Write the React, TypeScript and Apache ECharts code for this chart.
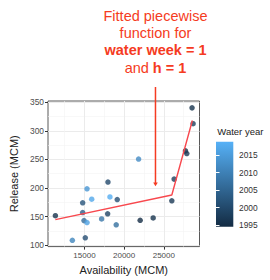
import React, { useEffect, useRef } from "react";
import * as echarts from "echarts";

const AVAILABILITY = [11330, 13470, 15100, 14770, 14770, 14940, 15320, 15320, 15910, 17160, 17960, 17920, 18210, 19000, 19130, 21820, 22020, 23660, 26010, 26300, 27730, 27900, 28560, 28690];
const RELEASE = [151.5, 108.5, 112.9, 174.1, 157.1, 143.0, 139.6, 198.6, 180.4, 145.9, 210.5, 154.9, 184.4, 135.7, 179.9, 250.7, 143.5, 147.6, 177.6, 215.6, 265.0, 260.4, 340.3, 312.6];
const WATER_YEAR = [1996, 2011, 2001, 2002, 2004, 2006, 2016, 2014, 2017, 2008, 2000, 1999, 2018, 2007, 2001, 2012, 1995, 1996, 1997, 1998, 1995, 1997, 1996, 1998];

const FIT_AVAILABILITY = [11330, 26010, 28600];
const FIT_RELEASE = [144.7, 187.8, 318.2];

const X_TICKS = [15000, 20000, 25000];
const X_MINOR = [12500, 17500, 22500, 27500];
const Y_TICKS = [100, 150, 200, 250, 300, 350];
const Y_MINOR = [125, 175, 225, 275, 325];
const YEAR_TICKS = [1995, 2000, 2005, 2010, 2015];

const ARROW_X = 23950;
const ARROW_TIP = 203;

const FONT = "'Liberation Sans', Arial, sans-serif";
const RED = "#F53B22";
const plain = (v: number) => String(Math.round(v));

export default function App() {
  const ref = useRef<HTMLDivElement>(null);
  useEffect(() => {
    const chart = echarts.init(ref.current!, null, { renderer: "svg" });
    const yearAxis = (pos: "left" | "right", labels: boolean) => ({
      gridIndex: 1,
      type: "value",
      position: pos,
      min: 1994.6,
      max: 2018.8,
      z: 10,
      axisLine: { show: false },
      axisTick: { show: true, inside: true, length: 3.5, lineStyle: { color: "#ffffff", width: 1 }, customValues: YEAR_TICKS },
      axisLabel: { show: labels, customValues: YEAR_TICKS, formatter: plain, fontSize: 8.4, color: "#333", margin: 5.7, fontFamily: FONT },
      splitLine: { show: false },
    });
    chart.setOption({
      animation: false,
      textStyle: { fontFamily: FONT },
      grid: [
        { left: 48, top: 101, width: 151.5, height: 149.7, show: true, borderColor: "#595959", borderWidth: 1, backgroundColor: "#ffffff" },
        { left: 216, top: 141.7, width: 17.3, height: 85 },
      ],
      xAxis: [
        {
          gridIndex: 0, type: "value", min: 10400, max: 29500,
          name: "Availability (MCM)", nameLocation: "middle", nameGap: 16,
          nameTextStyle: { fontSize: 11, color: "#222", fontFamily: FONT },
          axisLine: { show: false },
          axisTick: { show: true, length: 3, lineStyle: { color: "#333" }, customValues: X_TICKS },
          axisLabel: { customValues: X_TICKS, formatter: plain, fontSize: 8, color: "#4d4d4d", margin: 4.5, fontFamily: FONT },
          splitLine: { show: true, lineStyle: { color: "#EBEBEB", width: 1 } },
        },
        {
          gridIndex: 0, type: "value", min: 10400, max: 29500, position: "bottom",
          axisLine: { show: false },
          axisTick: { show: false, customValues: X_MINOR },
          axisLabel: { show: false },
          splitLine: { show: true, lineStyle: { color: "#F4F4F4", width: 0.6 } },
        },
        { gridIndex: 1, type: "value", show: false },
      ],
      yAxis: [
        {
          gridIndex: 0, type: "value", min: 97.5, max: 352.3,
          name: "Release (MCM)", nameLocation: "middle", nameGap: 21,
          nameTextStyle: { fontSize: 11, color: "#222", fontFamily: FONT },
          axisLine: { show: false },
          axisTick: { show: true, length: 3, lineStyle: { color: "#333" }, customValues: Y_TICKS },
          axisLabel: { customValues: Y_TICKS, formatter: plain, fontSize: 8.4, color: "#4d4d4d", margin: 4, fontFamily: FONT },
          splitLine: { show: true, lineStyle: { color: "#EBEBEB", width: 1 } },
        },
        {
          gridIndex: 0, type: "value", min: 97.5, max: 352.3, position: "left",
          axisLine: { show: false },
          axisTick: { show: false, customValues: Y_MINOR },
          axisLabel: { show: false },
          splitLine: { show: true, lineStyle: { color: "#F4F4F4", width: 0.6 } },
        },
        yearAxis("right", true),
        yearAxis("left", false),
      ],
      visualMap: {
        type: "continuous", show: false, dimension: 2, seriesIndex: 0,
        min: 1994.6, max: 2018.8,
        inRange: { color: ["#132B43", "#56B1F7"] },
      },
      series: [
        {
          type: "scatter", xAxisIndex: 0, yAxisIndex: 0,
          symbolSize: 5.5,
          data: AVAILABILITY.map((a, i) => [a, RELEASE[i], WATER_YEAR[i]]),
          z: 2,
        },
        {
          type: "line", xAxisIndex: 0, yAxisIndex: 0,
          data: FIT_AVAILABILITY.map((a, i) => [a, FIT_RELEASE[i]]),
          symbol: "none", silent: true,
          lineStyle: { color: "#F8484E", width: 1.4 },
          z: 3,
        },
      ],
    });

    const tip = chart.convertToPixel({ gridIndex: 0 }, [ARROW_X, ARROW_TIP]) as number[];
    const ax = tip[0];
    const ay = tip[1];
    const textLine = (txt: string, y: number, bold: boolean) => ({
      type: "text", x: ax, y,
      style: {
        text: txt, fill: RED, fontSize: 14.5, fontFamily: FONT,
        fontWeight: bold ? "bold" : "normal",
        textAlign: "center", textVerticalAlign: "middle",
      },
    });
    chart.setOption({
      graphic: [
        {
          type: "rect", z: 1,
          shape: { x: 216, y: 141.7, width: 17.3, height: 85 },
          style: {
            fill: new echarts.graphic.LinearGradient(0, 0, 0, 1, [
              { offset: 0, color: "#56B1F7" },
              { offset: 1, color: "#132B43" },
            ]),
          },
        },
        {
          type: "text", x: 217.3, y: 131.7,
          style: { text: "Water year", fill: "#222", fontSize: 9.5, fontFamily: FONT, textVerticalAlign: "middle" },
        },
        textLine("Fitted piecewise", 15.7, false),
        textLine("function for", 32.7, false),
        textLine("water week = 1", 50, true),
        {
          type: "text", x: ax, y: 68.3,
          style: {
            text: "{n|and }{b|h = 1}", fill: RED, fontSize: 14.5, fontFamily: FONT,
            textAlign: "center", textVerticalAlign: "middle",
            rich: {
              n: { fill: RED, fontSize: 14.5, fontFamily: FONT, fontWeight: "normal" },
              b: { fill: RED, fontSize: 14.5, fontFamily: FONT, fontWeight: "bold" },
            },
          },
        },
        {
          type: "line", z: 20,
          shape: { x1: ax, y1: 87, x2: ax, y2: ay - 3 },
          style: { stroke: RED, lineWidth: 1.5 },
        },
        {
          type: "polygon", z: 20,
          shape: { points: [[ax - 2.3, ay - 3.8], [ax + 2.3, ay - 3.8], [ax, ay]] },
          style: { fill: RED },
        },
      ],
    });
    return () => chart.dispose();
  }, []);
  return <div ref={ref} style={{ position: "absolute", left: 0, top: 0, width: 270, height: 280 }} />;
}
